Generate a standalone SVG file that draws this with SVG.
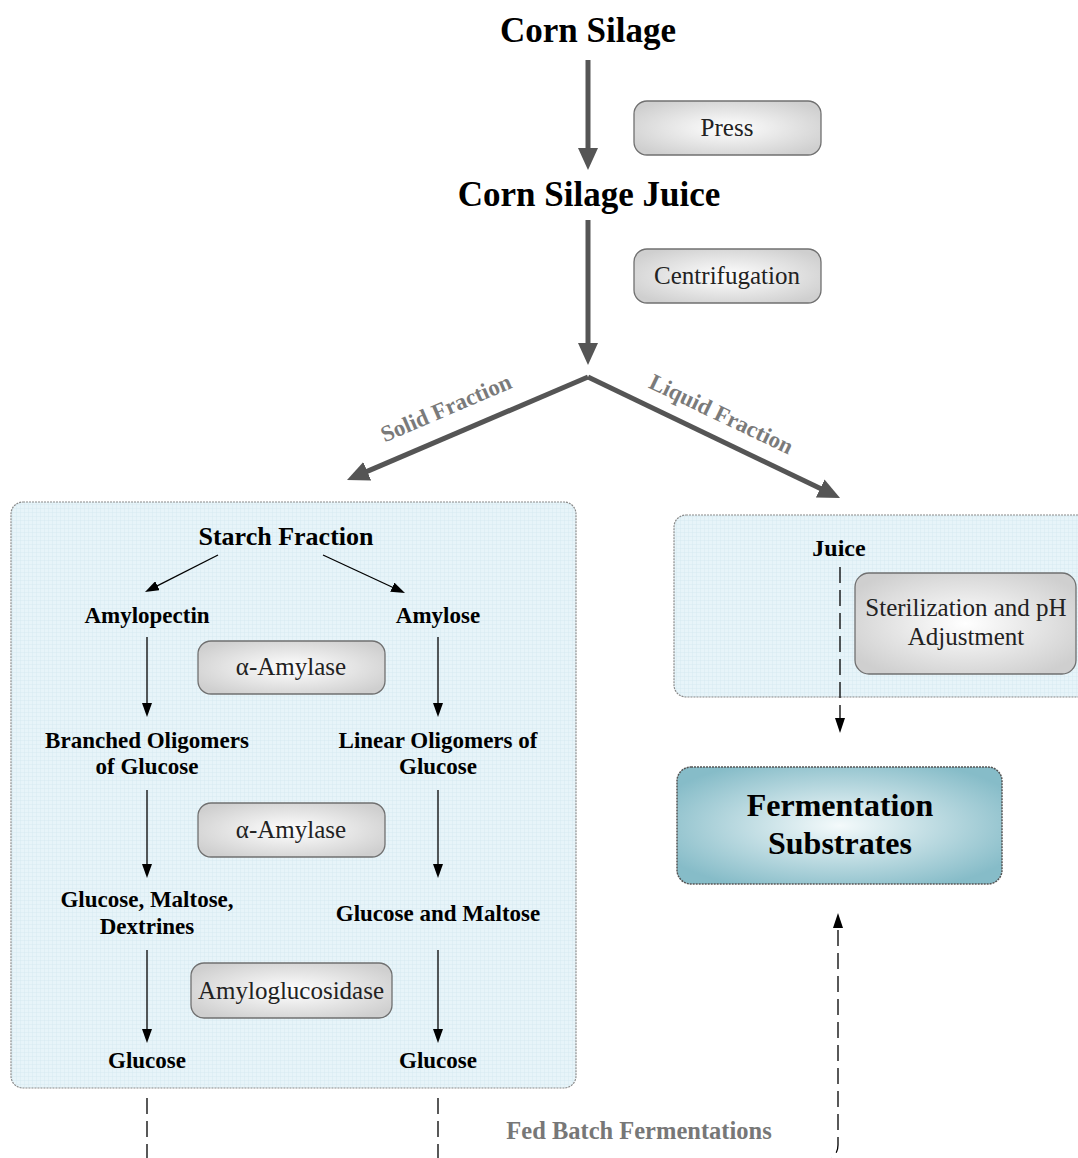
<svg xmlns="http://www.w3.org/2000/svg" width="1078" height="1158" viewBox="0 0 1078 1158">
<defs>
<style>
.t{font-family:"Liberation Serif","Times New Roman",serif;text-anchor:middle;fill:#000}
.title{font-size:35px;font-weight:bold}
.lbl{font-size:23px;font-weight:bold}
.step{font-size:25px;fill:#222}
.gray{font-size:23px;font-weight:bold;fill:#7a7a7a}
.big{stroke:#555;stroke-width:5;fill:none;marker-end:url(#bigHead)}
.thin{stroke:#000;stroke-width:1.3;fill:none;marker-end:url(#thinHead)}
.dash{stroke:#000;stroke-width:1.3;fill:none;stroke-dasharray:16 7}
.proc{fill:url(#grayGrad);stroke:#707070;stroke-width:1.3}
.cont{fill:url(#grid);stroke:#8a8a8a;stroke-width:1.2;stroke-dasharray:2 1}
</style>
<marker id="bigHead" markerUnits="userSpaceOnUse" markerWidth="22" markerHeight="20" refX="2" refY="10" orient="auto">
<path d="M0,0 L22,10 L0,20 z" fill="#555"/>
</marker>
<marker id="thinHead" markerUnits="userSpaceOnUse" markerWidth="14" markerHeight="10" refX="2" refY="5" orient="auto">
<path d="M0,0 L14,5 L0,10 z" fill="#000"/>
</marker>
<radialGradient id="grayGrad" cx="0.5" cy="0.5" r="0.6">
<stop offset="0" stop-color="#ffffff"/>
<stop offset="1" stop-color="#cfcfcf"/>
</radialGradient>
<radialGradient id="tealGrad" cx="0.5" cy="0.5" r="0.6">
<stop offset="0" stop-color="#f4fafb"/>
<stop offset="1" stop-color="#86bcc8"/>
</radialGradient>
<pattern id="grid" patternUnits="userSpaceOnUse" width="4" height="4">
<rect width="4" height="4" fill="#e7f4f9"/>
<path d="M0,0.25 H4 M0.25,0 V4" stroke="#d3e8f0" stroke-width="0.5"/>
</pattern>
</defs>

<g id="containers">
<rect id="solid-container" class="cont" x="11" y="502" width="565" height="586" rx="12"/>
<rect id="liquid-container" class="cont" x="674" y="515" width="420" height="182" rx="12"/>
</g>

<g id="connectors">
<line class="big" x1="588" y1="60" x2="588" y2="150"/>
<line class="big" x1="588" y1="220" x2="588" y2="345"/>
<line class="big" x1="588" y1="377" x2="365.4" y2="472.1"/>
<line class="big" x1="588" y1="377" x2="822" y2="489.3"/>
<line class="thin" x1="218" y1="555" x2="155.7" y2="586.6"/>
<line class="thin" x1="323" y1="555" x2="394.1" y2="588"/>
<line class="thin" x1="147" y1="637" x2="147" y2="705"/>
<line class="thin" x1="438" y1="637" x2="438" y2="705"/>
<line class="thin" x1="147" y1="790" x2="147" y2="866"/>
<line class="thin" x1="438" y1="790" x2="438" y2="866"/>
<line class="thin" x1="147" y1="950" x2="147" y2="1031"/>
<line class="thin" x1="438" y1="950" x2="438" y2="1031"/>
<line class="dash" x1="840" y1="567" x2="840" y2="719"/>
<path d="M835,718 L845,718 L840,733 z" fill="#000"/>
<line class="dash" x1="147" y1="1098" x2="147" y2="1158"/>
<line class="dash" x1="438" y1="1098" x2="438" y2="1158"/>
<path class="dash" d="M838,930 L838,1145 Q838,1154 830,1160"/>
<path d="M833,928 L843,928 L838,913 z" fill="#000"/>
</g>

<g id="corn-silage"><text class="t title" x="588" y="42">Corn Silage</text></g>
<g id="press"><rect class="proc" x="634" y="101" width="187" height="54" rx="13"/><text class="t step" x="727" y="136">Press</text></g>
<g id="corn-silage-juice"><text class="t title" x="589" y="206">Corn Silage Juice</text></g>
<g id="centrifugation"><rect class="proc" x="634" y="249" width="187" height="54" rx="13"/><text class="t step" x="727" y="284">Centrifugation</text></g>

<g id="solid-label"><text class="t gray" transform="translate(449,415) rotate(-23.2)">Solid Fraction</text></g>
<g id="liquid-label"><text class="t gray" transform="translate(718,421) rotate(25.6)">Liquid Fraction</text></g>

<g id="starch-fraction"><text class="t" style="font-size:26px;font-weight:bold" x="286" y="545">Starch Fraction</text></g>
<g id="amylopectin"><text class="t lbl" x="147" y="623">Amylopectin</text></g>
<g id="amylose"><text class="t lbl" x="438" y="623">Amylose</text></g>
<g id="alpha-amylase-1"><rect class="proc" x="198" y="641" width="187" height="53" rx="13"/><text class="t step" x="291" y="675">α-Amylase</text></g>
<g id="branched"><text class="t lbl" x="147" y="748">Branched Oligomers</text><text class="t lbl" x="147" y="774">of Glucose</text></g>
<g id="linear"><text class="t lbl" x="438" y="748">Linear Oligomers of</text><text class="t lbl" x="438" y="774">Glucose</text></g>
<g id="alpha-amylase-2"><rect class="proc" x="198" y="803" width="187" height="54" rx="13"/><text class="t step" x="291" y="838">α-Amylase</text></g>
<g id="glucose-maltose-dextrines"><text class="t lbl" x="147" y="907">Glucose, Maltose,</text><text class="t lbl" x="147" y="934">Dextrines</text></g>
<g id="glucose-and-maltose"><text class="t lbl" x="438" y="921">Glucose and Maltose</text></g>
<g id="amyloglucosidase"><rect class="proc" x="191" y="963" width="201" height="55" rx="13"/><text class="t step" x="291" y="999">Amyloglucosidase</text></g>
<g id="glucose-left"><text class="t lbl" x="147" y="1068">Glucose</text></g>
<g id="glucose-right"><text class="t lbl" x="438" y="1068">Glucose</text></g>

<g id="juice"><text class="t lbl" x="839" y="556" style="font-size:24px">Juice</text></g>
<g id="sterilization"><rect class="proc" x="855" y="573" width="221" height="101" rx="14"/><text class="t step" x="966" y="616">Sterilization and pH</text><text class="t step" x="966" y="645">Adjustment</text></g>

<g id="fermentation-substrates"><rect x="677" y="767" width="325" height="117" rx="14" fill="url(#tealGrad)" stroke="#555" stroke-width="1.5" stroke-dasharray="2 1"/><text class="t" style="font-size:32px;font-weight:bold" x="840" y="816">Fermentation</text><text class="t" style="font-size:32px;font-weight:bold" x="840" y="854">Substrates</text></g>

<g id="fed-batch"><text class="t" style="font-size:24.5px;font-weight:bold;fill:#777" x="639" y="1139">Fed Batch Fermentations</text></g>
</svg>
